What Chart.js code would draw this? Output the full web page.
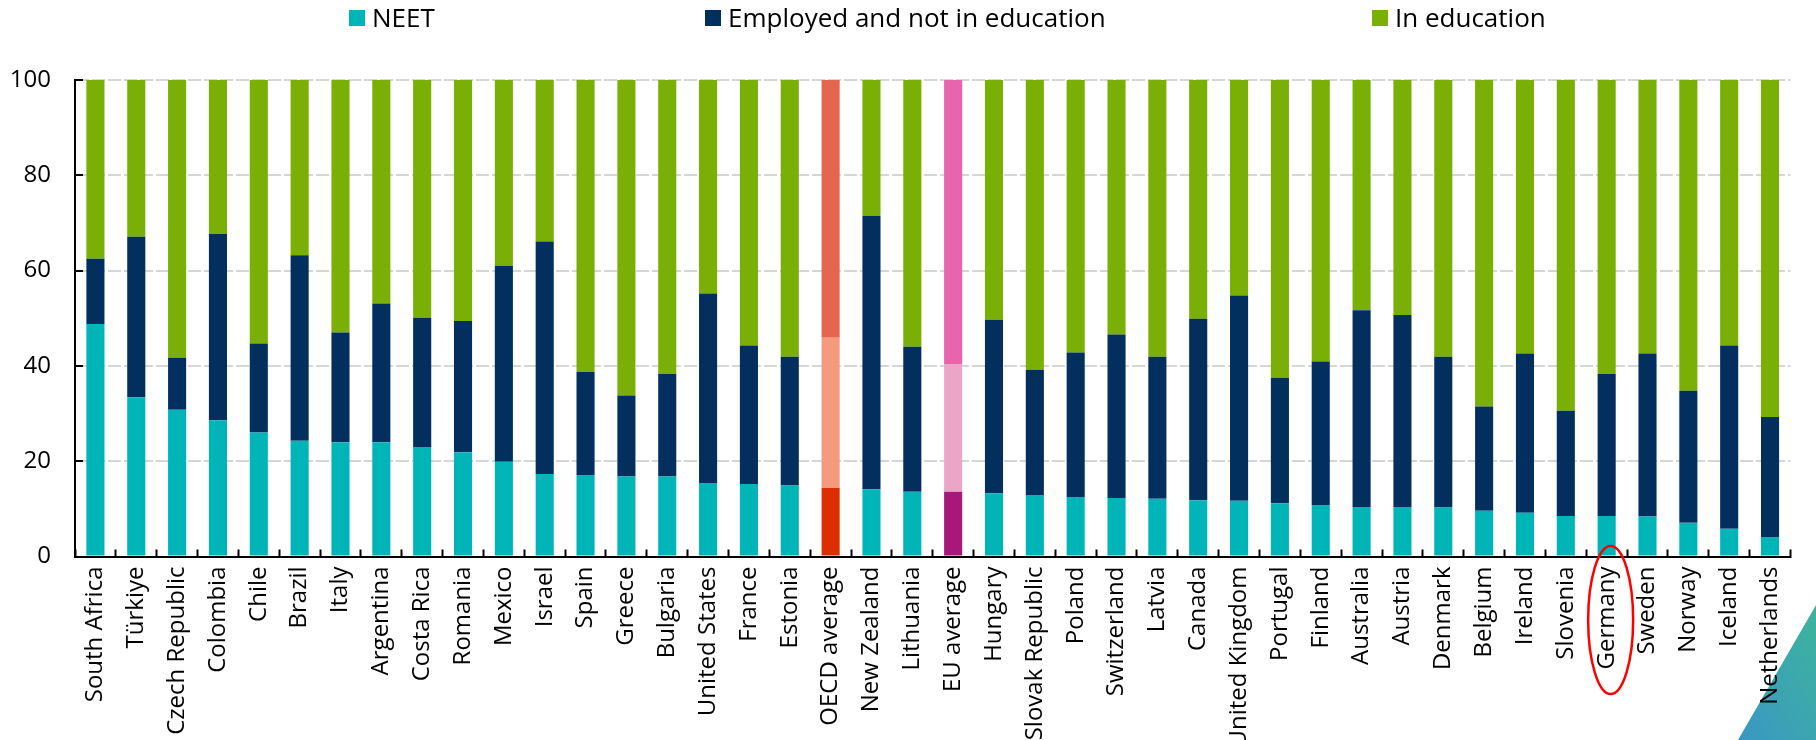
<!DOCTYPE html>
<html><head><meta charset="utf-8">
<script src="https://cdn.jsdelivr.net/npm/chart.js@4.4.1/dist/chart.umd.min.js"></script>
<style>
html,body{margin:0;padding:0;background:#fff;overflow:hidden}
#wrap{position:relative;width:1816px;height:740px}
#tri{position:absolute;z-index:0;left:1738px;top:605px;width:78px;height:135px;clip-path:polygon(100% 0,100% 100%,0 100%);background:linear-gradient(to bottom left,#3DB49C,#3A97C4)}
#c{position:absolute;left:0;top:0;z-index:1}
</style></head><body>
<div id="wrap"><div id="tri"></div><canvas id="c" width="1816" height="740"></canvas></div>
<script>
const categories = ['South Africa','Türkiye','Czech Republic','Colombia','Chile','Brazil','Italy','Argentina','Costa Rica','Romania','Mexico','Israel','Spain','Greece','Bulgaria','United States','France','Estonia','OECD average','New Zealand','Lithuania','EU average','Hungary','Slovak Republic','Poland','Switzerland','Latvia','Canada','United Kingdom','Portugal','Finland','Australia','Austria','Denmark','Belgium','Ireland','Slovenia','Germany','Sweden','Norway','Iceland','Netherlands'];
const neet = [48.8,33.4,30.8,28.6,26.0,24.3,24.0,24.0,23.0,21.9,19.9,17.3,17.1,16.8,16.8,15.4,15.2,14.9,14.4,14.1,13.6,13.6,13.3,12.9,12.5,12.3,12.1,11.8,11.7,11.2,10.8,10.4,10.4,10.3,9.6,9.2,8.5,8.5,8.4,7.1,5.8,4.1];
const employed = [13.7,33.7,10.9,39.1,18.7,38.9,23.0,29.1,27.1,27.5,41.1,48.8,21.6,17.0,21.5,39.8,29.1,27.0,31.5,57.4,30.4,26.8,36.4,26.3,30.3,34.3,29.8,38.1,43.1,26.3,30.1,41.3,40.3,31.6,21.9,33.4,22.1,29.8,34.2,27.7,38.5,25.2];
const inEducation = [37.5,32.9,58.3,32.3,55.3,36.8,53.0,46.9,49.9,50.6,39.0,33.9,61.3,66.2,61.7,44.8,55.7,58.1,54.1,28.5,56.0,59.6,50.3,60.8,57.2,53.4,58.1,50.1,45.2,62.5,59.1,48.3,49.3,58.1,68.5,57.4,69.4,61.7,57.4,65.2,55.7,70.7];
const yTicks = [0,20,40,60,80,100];
const seriesNames = ['NEET','Employed and not in education','In education'];
const highlighted = 'Germany';

const baseColors = ['#00B5B8','#032F5F','#7AAF05'];
const oecdColors = ['#DD2E00','#F59A7C','#E4664E'];
const euColors = ['#A81879','#EBA5C7','#E665AD'];
function barColors(i){
  return categories.map(c => c === 'OECD average' ? oecdColors[i] : (c === 'EU average' ? euColors[i] : baseColors[i]));
}
const seriesValues = [neet, employed, inEducation];

const legendPlugin = {
  id: 'customLegend',
  afterDraw(chart){
    const ctx = chart.ctx;
    const xs = [349, 705, 1372];
    ctx.save();
    ctx.font = '26px "Open Sans"';
    ctx.textBaseline = 'alphabetic';
    ctx.textAlign = 'left';
    chart.data.datasets.forEach((ds, i) => {
      ctx.fillStyle = baseColors[i];
      ctx.fillRect(xs[i], 10, 16, 16);
      ctx.fillStyle = '#000';
      ctx.fillText(ds.label, xs[i] + 23, 27);
    });
    ctx.restore();
  }
};
const ellipsePlugin = {
  id: 'highlight',
  afterDraw(chart){
    const xs = chart.scales.x;
    const idx = categories.indexOf(highlighted);
    const cx = xs.getPixelForValue(idx) + 4;
    const ctx = chart.ctx;
    ctx.save();
    ctx.strokeStyle = '#FF0000';
    ctx.lineWidth = 2.5;
    ctx.beginPath();
    ctx.ellipse(cx, 620, 22.5, 74, 0, 0, Math.PI * 2);
    ctx.stroke();
    ctx.restore();
  }
};

new Chart(document.getElementById('c'), {
  type: 'bar',
  data: {
    labels: categories,
    datasets: seriesNames.map((name, i) => ({
      label: name,
      data: seriesValues[i],
      backgroundColor: barColors(i),
      borderWidth: 0,
      barPercentage: 0.443,
      categoryPercentage: 1.0
    }))
  },
  options: {
    responsive: false,
    animation: false,
    devicePixelRatio: 1,
    layout: { padding: { top: 80, right: 14, left: 0, bottom: 0 } },
    plugins: { legend: { display: false }, tooltip: { enabled: false } },
    scales: {
      x: {
        stacked: true,
        offset: true,
        grid: { display: true, drawOnChartArea: false, drawTicks: true, tickLength: -7, tickColor: '#000', tickWidth: 2, offset: true },
        border: { display: true, color: '#000', width: 2 },
        ticks: { autoSkip: false, minRotation: 90, maxRotation: 90, padding: 17, color: '#000', font: { family: 'Open Sans', size: 24 } },
        afterFit(s){ s.height = 183.5; }
      },
      y: {
        stacked: true,
        min: 0, max: 100,
        afterBuildTicks(s){ s.ticks = yTicks.map(v => ({ value: v })); },
        ticks: { padding: 32, color: '#000', font: { family: 'Open Sans', size: 24 } },
        grid: { color: '#D6D6D6', lineWidth: 2, tickLength: -8, tickColor: '#000', tickWidth: 2 },
        border: { display: true, color: '#000', width: 2, dash: [13, 3] },
        afterFit(s){ s.width = 75; }
      }
    }
  },
  plugins: [legendPlugin, ellipsePlugin]
});
</script>
</body></html>
